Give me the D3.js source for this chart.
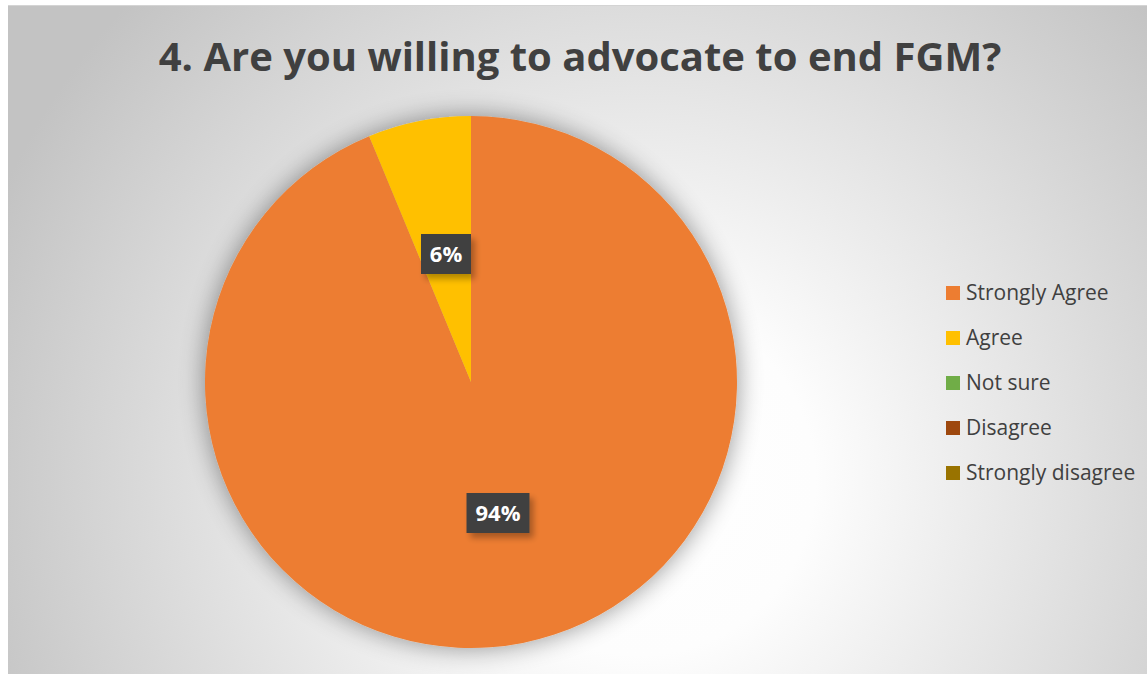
<!DOCTYPE html>
<html>
<head>
<meta charset="utf-8">
<script src="https://cdn.jsdelivr.net/npm/d3@7"></script>
<style>
  body { margin: 0; background: #fff; }
  text { font-family: "Open Sans", "Liberation Sans", sans-serif; }
</style>
</head>
<body>
<svg id="pie-chart-svg" width="1147" height="674"></svg>
<script>
// chart data
let categories = ["Strongly Agree", "Agree", "Not sure", "Disagree", "Strongly disagree"];
let values = [93.75, 6.25, 0, 0, 0];
let colours = ["#ED7D31", "#FFC000", "#70AD47", "#9E480E", "#997300"];
let chartTitle = "4. Are you willing to advocate to end FGM?";

let svg = d3.select('#pie-chart-svg');
let defs = svg.append("defs");

let bg = defs.append("radialGradient")
    .attr("id", "bgGrad")
    .attr("gradientUnits", "userSpaceOnUse")
    .attr("cx", 640).attr("cy", 480).attr("r", 700);
bg.append("stop").attr("offset", "0%").attr("stop-color", "#ffffff");
bg.append("stop").attr("offset", "25%").attr("stop-color", "#fdfdfd");
bg.append("stop").attr("offset", "100%").attr("stop-color", "#c3c3c3");

let shadow = defs.append("filter").attr("id", "pieShadow")
    .attr("x", "-20%").attr("y", "-20%").attr("width", "140%").attr("height", "140%");
shadow.append("feGaussianBlur").attr("in", "SourceAlpha").attr("stdDeviation", 13).attr("result", "blur");
shadow.append("feOffset").attr("dx", 0).attr("dy", 0).attr("result", "off");
shadow.append("feComponentTransfer").append("feFuncA").attr("type", "linear").attr("slope", 0.42);
let sm = shadow.append("feMerge");
sm.append("feMergeNode");
sm.append("feMergeNode").attr("in", "SourceGraphic");

let boxShadow = defs.append("filter").attr("id", "boxShadow")
    .attr("x", "-30%").attr("y", "-30%").attr("width", "170%").attr("height", "170%");
boxShadow.append("feGaussianBlur").attr("in", "SourceAlpha").attr("stdDeviation", 3);
boxShadow.append("feOffset").attr("dx", 4).attr("dy", 5).attr("result", "off");
boxShadow.append("feComponentTransfer").append("feFuncA").attr("type", "linear").attr("slope", 0.3);
let bm = boxShadow.append("feMerge");
bm.append("feMergeNode");
bm.append("feMergeNode").attr("in", "SourceGraphic");

svg.append("rect")
    .attr("x", 8).attr("y", 5)
    .attr("width", 1139).attr("height", 669)
    .attr("fill", "url(#bgGrad)");
svg.append("line")
    .attr("x1", 8).attr("x2", 1147).attr("y1", 5.5).attr("y2", 5.5)
    .attr("stroke", "#d4d4d4");

// title, squeezed to the reference width
let title = svg.append("text")
    .attr("x", 580).attr("y", 71)
    .attr("text-anchor", "middle")
    .attr("font-size", 40)
    .attr("font-weight", "bold")
    .attr("fill", "#404040")
    .text(chartTitle);
let tw = title.node().getComputedTextLength();
if (tw > 846) title.attr("textLength", 846).attr("lengthAdjust", "spacingAndGlyphs");

let pieRadius = 266;
let cx = 471, cy = 382;

let pie = d3.pie().sort(null).value(d => d.value);
let arc = d3.arc().outerRadius(pieRadius).innerRadius(0);

let data = categories.map((c, i) => ({label: c, value: values[i], colour: colours[i]}));

let pieG = svg.append("g")
    .attr("transform", "translate(" + cx + "," + cy + ")");

pieG.append("g").attr("filter", "url(#pieShadow)")
    .selectAll("path")
    .data(pie(data).filter(d => d.data.value > 0))
    .enter()
    .append("path")
    .attr("d", arc)
    .attr("fill", d => d.data.colour);

// data labels in dark boxes
let labels = pieG.selectAll(".lbl")
    .data(pie(data).filter(d => d.data.value > 0))
    .enter()
    .append("g")
    .attr("class", "lbl")
    .attr("transform", function(d) {
        let c = d.data.label === "Agree" ? [-25, -128] : [27, 131];
        return "translate(" + c[0] + "," + c[1] + ")";
    });

labels.each(function(d) {
    let g = d3.select(this);
    let txt = Math.round(d.data.value) + "%";
    let w = txt.length === 2 ? 50 : 63;
    g.append("rect")
        .attr("x", -w / 2).attr("y", -20)
        .attr("width", w).attr("height", 40)
        .attr("fill", "#404040")
        .attr("filter", "url(#boxShadow)");
    g.append("text")
        .attr("text-anchor", "middle")
        .attr("dy", "0.36em")
        .attr("font-size", 22)
        .attr("font-weight", "bold")
        .attr("fill", "#ffffff")
        .text(txt);
});

// legend
let legendY = d3.scalePoint().domain(categories).range([293, 473]);
let legend = svg.selectAll(".legend")
    .data(data)
    .enter()
    .append("g")
    .attr("class", "legend")
    .attr("transform", d => "translate(946," + legendY(d.label) + ")");

legend.append("rect")
    .attr("x", 0).attr("y", -7)
    .attr("width", 14).attr("height", 14)
    .attr("fill", d => d.colour);

legend.append("text")
    .attr("x", 20)
    .attr("dy", "0.35em")
    .attr("font-size", 21)
    .attr("fill", "#404040")
    .text(d => d.label);
</script>
</body>
</html>
